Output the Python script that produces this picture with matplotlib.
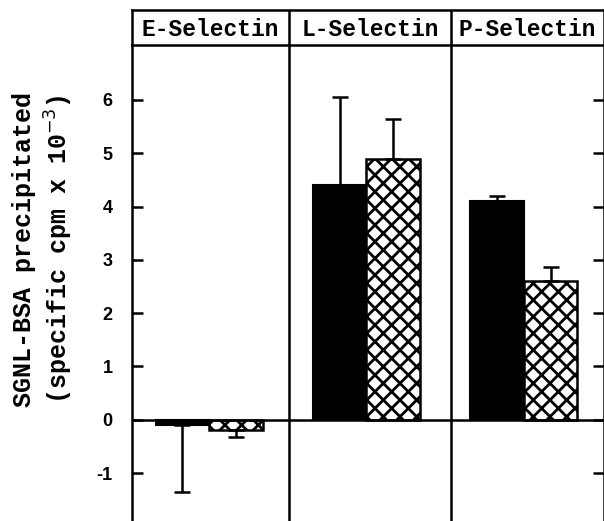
import matplotlib
matplotlib.use('Agg')
import matplotlib.pyplot as plt
import numpy as np

panels = ['E-Selectin', 'L-Selectin', 'P-Selectin']
solid_vals = [-0.1, 4.4, 4.1]
solid_err_lo = [1.25, 0.0, 0.0]
solid_err_hi = [0.0, 1.65, 0.1]
hatch_vals = [-0.2, 4.9, 2.6]
hatch_err_lo = [0.13, 0.0, 0.0]
hatch_err_hi = [0.0, 0.75, 0.27]
yticks = [-1, 0, 1, 2, 3, 4, 5, 6]

plt.rcParams['axes.unicode_minus'] = False
plt.rcParams['hatch.linewidth'] = 2.0
mono = 'Liberation Mono'

fig = plt.figure(figsize=(6.04, 5.21), dpi=100)
ax = fig.add_axes([132 / 604, 0.0, 472 / 604, 1 - 45 / 521])
head = fig.add_axes([132 / 604, 1 - 45 / 521, 472 / 604, 35 / 521])

# panel boundaries (L panel is a bit wider than the others)
edges = [0, 1, 2.03, 3]

x = np.arange(len(panels))
w = 0.34
ax.bar(x + 0.32, solid_vals, width=w, color='black', edgecolor='black', linewidth=1.5,
       yerr=[solid_err_lo, solid_err_hi], error_kw=dict(ecolor='black', elinewidth=1.8,
                                                        capsize=6, capthick=1.8))
ax.bar(x + 0.66, hatch_vals, width=w, color='white', edgecolor='black', linewidth=1.8,
       hatch='xx', yerr=[hatch_err_lo, hatch_err_hi],
       error_kw=dict(ecolor='black', elinewidth=1.8, capsize=6, capthick=1.8))

ax.axhline(0, color='black', linewidth=1.8)
for d in edges[1:-1]:
    ax.axvline(d, color='black', linewidth=1.8)

ax.set_xlim(0, 3)
ax.set_ylim(-1.9, 7.03)
ax.set_xticks([])
ax.set_yticks(yticks)
ax.set_yticklabels([str(t) for t in yticks], fontfamily='Liberation Sans',
                   fontweight='bold', fontsize=13)
ax.tick_params(axis='y', direction='in', length=8, width=1.8, right=True, pad=14)
ax.spines['bottom'].set_visible(False)
ax.spines['top'].set_visible(False)
for s in ['left', 'right']:
    ax.spines[s].set_linewidth(1.8)

ax.set_ylabel('SGNL-BSA precipitated\n(specific cpm x 10$^{-3}$)', fontfamily=mono,
              fontweight='bold', fontsize=18, linespacing=1.3)
ax.yaxis.set_label_coords(-0.12, 0.57)

head.set_xlim(0, 3)
head.set_ylim(0, 1)
head.set_xticks([])
head.set_yticks([])
for s in head.spines.values():
    s.set_linewidth(1.8)
for i, name in enumerate(panels):
    head.text((edges[i] + edges[i + 1]) / 2, 0.45, name, ha='center', va='center',
              fontfamily=mono, fontweight='bold', fontsize=16.5)
for d in edges[1:-1]:
    head.axvline(d, color='black', linewidth=1.8)

fig.savefig('out.png', dpi=100)
